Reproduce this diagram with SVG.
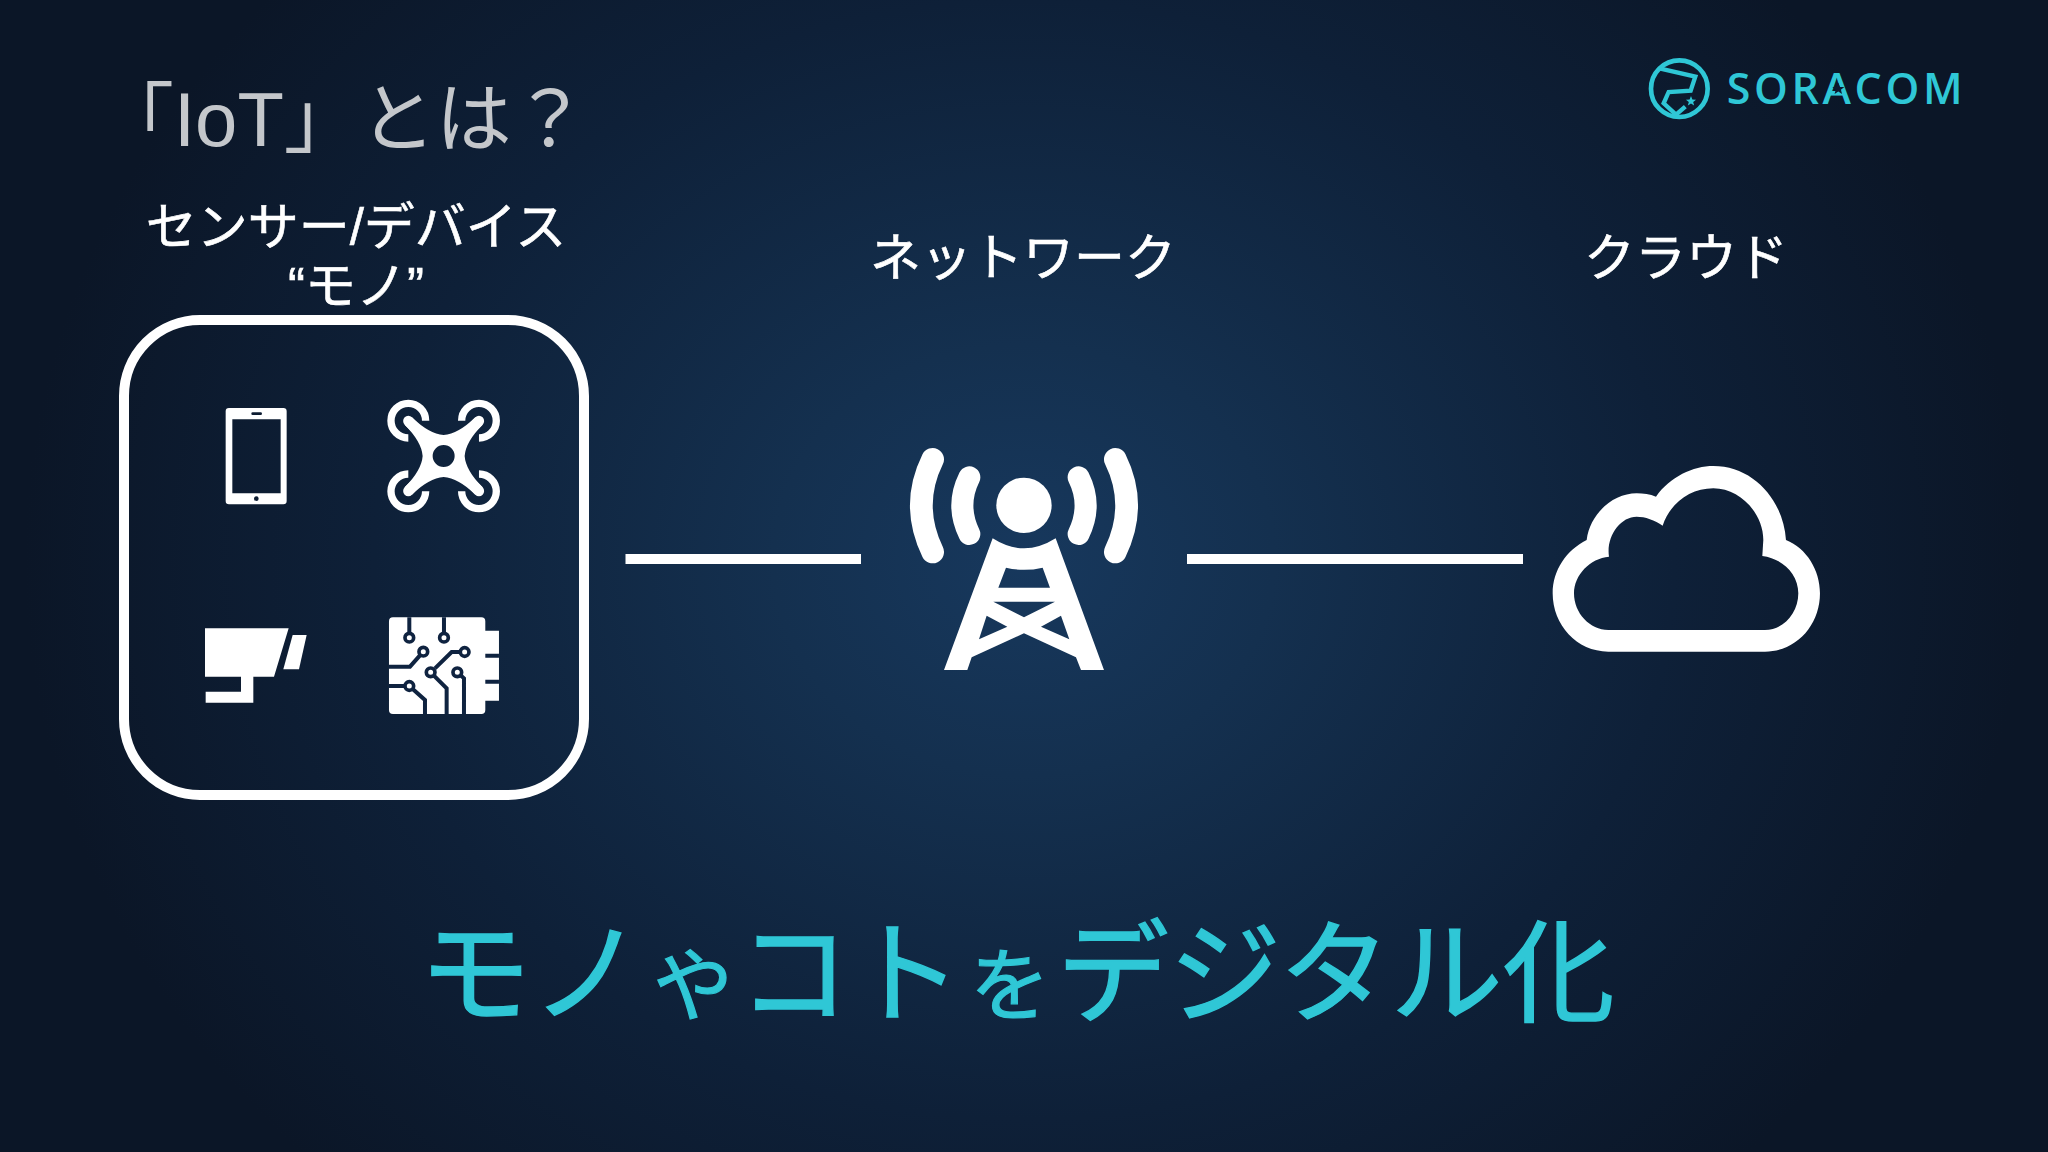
<svg xmlns="http://www.w3.org/2000/svg" width="2048" height="1152" viewBox="0 0 2048 1152">
<defs>
<radialGradient id="bg" gradientUnits="userSpaceOnUse" cx="1024" cy="560" r="1000" gradientTransform="translate(1024 560) scale(1 .86) translate(-1024 -560)">
<stop offset="0" stop-color="#17385d"/><stop offset=".25" stop-color="#14304f"/><stop offset=".65" stop-color="#0e2038"/><stop offset="1" stop-color="#0b1627"/>
</radialGradient>
<polygon id="star" points="0,-10 2.6,-3.2 9.5,-3.1 4.1,1.2 5.9,8 0,4 -5.9,8 -4.1,1.2 -9.5,-3.1 -2.6,-3.2"/>
</defs>
<style>
text{font-family:"Liberation Sans","Noto Sans CJK JP",sans-serif}
.lbl{fill:#fff;stroke:#fff;stroke-width:.6px;font-size:51px;text-anchor:middle}
.big{fill:#2fc7d6;stroke:#2fc7d6;stroke-width:1.4px;font-size:112px}
.small{fill:#2fc7d6;stroke:#2fc7d6;stroke-width:1.2px;font-size:80px}
.w{fill:#fff}
.eo{fill:#fff;fill-rule:evenodd}
.line{stroke:#fff;stroke-width:10;fill:none}
.trace{stroke:#0f2340;stroke-width:12;fill:none}
.node{stroke:#0f2340;stroke-width:11;fill:#fff}
</style>
<rect width="2048" height="1152" fill="url(#bg)"/>
<text id="title" x="98" y="146" font-size="76" fill="#c4c7cb">「IoT」とは？</text>
<g id="logo" transform="translate(1620 40) scale(.3333)">
<circle cx="178" cy="146" r="85" fill="none" stroke="#2fc7d6" stroke-width="14"/>
<path d="M118,85 L226,110 L212,152 L146,156 L131,190 L168,224 L196,200" fill="none" stroke="#2fc7d6" stroke-width="13"/>
<use href="#star" transform="translate(213 184) scale(1.6)" fill="#2fc7d6"/>
<text x="320" y="192" font-size="129" font-weight="600" fill="#2fc7d6" textLength="708" style="font-family:'Open Sans',sans-serif">SORACOM</text>
<use href="#star" transform="translate(655 147) scale(1.9)" fill="#0c1a30"/>
</g>
<g id="devices">
<text class="lbl" x="356" y="245">センサー/デバイス</text>
<text class="lbl" x="356" y="304">“モノ”</text>
<rect x="124" y="320" width="460" height="475" rx="76" ry="76" fill="none" stroke="#fff" stroke-width="10"/>
<g id="tablet" transform="translate(200 390) scale(.3333)">
<path class="eo" d="M87,54H250Q260,54 260,64V333Q260,343 250,343H87Q77,343 77,333V64Q77,54 87,54ZM97,88V310H242V88ZM158,67a4,4 0 0 0 0,8H182a4,4 0 0 0 0,-8ZM162,326a7,7 0 1 0 14,0a7,7 0 1 0 -14,0Z"/>
</g>
<g id="drone" transform="translate(200 390) scale(.3333)">
<path class="eo" d="M731,135Q775,132 826,82L848,104Q797,155 794,198Q797,241 848,292L826,314Q775,264 731,261Q687,264 636,314L614,292Q665,241 668,198Q665,155 614,104L636,82Q687,132 731,135ZM698,198a33,33 0 1 0 66,0a33,33 0 1 0 -66,0Z"/>
<g stroke="#fff" stroke-width="31" stroke-linecap="round"><path d="M640,108L625,93M822,108L837,93M640,288L625,303M822,288L837,303"/></g>
<g fill="none" stroke="#fff" stroke-width="22">
<path d="M677,92A52,52 0 1 0 625,144"/>
<path d="M785,92A52,52 0 1 1 837,144"/>
<path d="M677,304A52,52 0 1 1 625,252"/>
<path d="M785,304A52,52 0 1 0 837,252"/>
</g>
</g>
<g id="camera" transform="translate(190 590) scale(.3333)">
<path class="w" d="M45,115H296L252,260H190V338H47V305H153V260H45Z"/>
<path class="w" d="M308,135H350L327,238H280Z"/>
</g>
<g id="chip" transform="translate(190 590) scale(.3333)">
<path class="w" d="M609,82H874Q886,82 886,94V122H927V332H886V360Q886,372 874,372H609Q597,372 597,360V94Q597,82 609,82Z"/>
<path class="trace" d="M658,82V143M762,82V143M597,230H660L700,185M824,186H785L735,235M722,247L770,295V372M802,247L822,265V372M597,288H658L705,330V372M886,197H927M886,275H927"/>
<circle class="node" cx="658" cy="143" r="13"/><circle class="node" cx="762" cy="143" r="13"/>
<circle class="node" cx="700" cy="185" r="13"/><circle class="node" cx="824" cy="186" r="13"/>
<circle class="node" cx="722" cy="247" r="13"/><circle class="node" cx="802" cy="247" r="13"/>
<circle class="node" cx="658" cy="288" r="13"/>
</g>
</g>
<g id="connectors">
<path class="line" d="M625.5,559H861M1187,559H1523"/>
</g>
<g id="network">
<text class="lbl" x="1023" y="276">ネットワーク</text>
<g transform="translate(880 420) scale(.3333)">
<circle class="w" cx="432" cy="256" r="83"/>
<g fill="none" stroke="#fff" stroke-linecap="round">
<path stroke-width="66" d="M268,172Q226,256 268,342M596,172Q638,256 596,342"/>
<path stroke-width="68" d="M158,118Q90,256 158,396M706,118Q774,256 706,396"/>
</g>
<path class="eo" d="M338,355Q432,415 527,355L672,750H603L588,712L432,640L275,712L262,750H192ZM378,443Q432,456 488,443L510,503H355ZM340,545H525L432,592ZM320,587L382,620L297,658ZM543,587L568,658L483,620Z"/>
</g>
</g>
<g id="cloud">
<text class="lbl" x="1686" y="276">クラウド</text>
<g transform="translate(1530 450) scale(.3333)">
<path class="eo" d="M235,605C140,605 68,525 68,430C68,360 110,300 170,270C180,190 250,130 320,130C340,130 360,132 378,140C420,80 490,48 550,48C670,48 760,150 768,270C830,295 870,360 870,430C870,525 800,605 705,605ZM235,540C180,540 132,490 132,430C132,375 180,325 237,320C228,260 270,200 320,200C345,200 375,210 398,227C420,160 480,115 550,115C630,115 700,190 700,270L697,318C755,325 805,370 805,430C805,490 760,540 705,540Z"/>
</g>
</g>
<g id="headline">
<text class="big" x="419" y="1014">モノ</text>
<text class="small" x="653" y="1014">や</text>
<text class="big" x="738" y="1014">コト</text>
<text class="small" x="970" y="1014">を</text>
<text class="big" x="1057" y="1014">デジタル化</text>
</g>
</svg>
